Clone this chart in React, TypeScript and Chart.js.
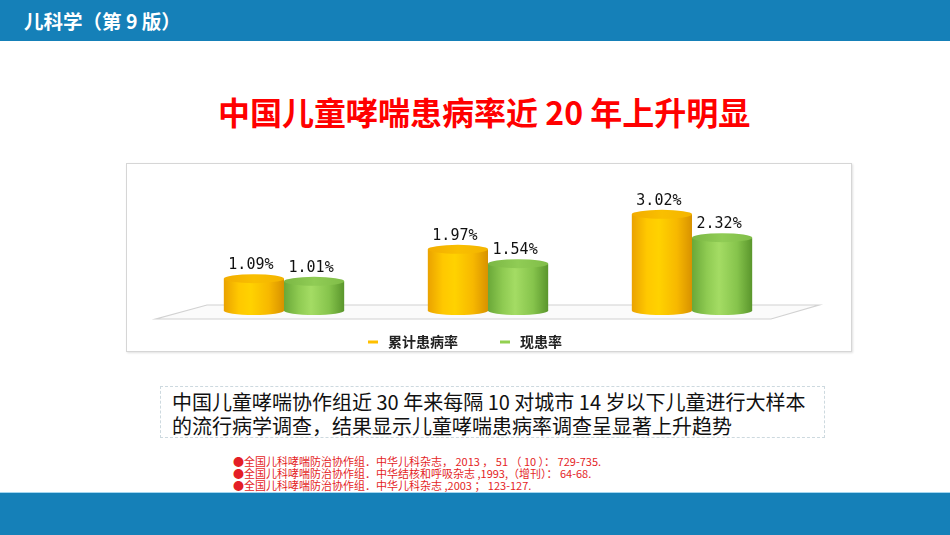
import { useEffect, useRef } from 'react';
import { Chart, BarController, BarElement, CategoryScale, LinearScale } from 'chart.js';
import type { Plugin } from 'chart.js';

Chart.register(BarController, BarElement, CategoryScale, LinearScale);

// three national surveys (years are not printed on the slide)
const SURVEYS = ['1990', '2000', '2010'];
const CUMULATIVE = [1.09, 1.97, 3.02];
const CURRENT = [1.01, 1.54, 2.32];
const SERIES = ['累计患病率', '现患率'];
const SERIES_COLORS = ['#ffc000', '#92d050'];

const REFERENCES = [
  '●全国儿科哮喘防治协作组．中华儿科杂志， 2013 ， 51 （ 10 ）： 729-735.',
  '●全国儿科哮喘防治协作组．中华结核和呼吸杂志 ,1993,（增刊）： 64-68.',
  '●全国儿科哮喘防治协作组．中华儿科杂志 ,2003 ； 123-127.',
];

const CJK = '"Noto Sans CJK SC", "Noto Sans", sans-serif';
const BLUE = '#1580b8';

// body / cap gradient stops per series
const BODY_STOPS = [
  ['#eaa200', '#ffc800', '#ffd200', '#f7b800', '#d89200'],
  ['#6aa838', '#8fcb52', '#a4dc64', '#86c44c', '#5a962c'],
];
const CAP_STOPS = [
  ['#f2ac00', '#f9bf00', '#f4b400'],
  ['#7bb744', '#90cc55', '#80bd48'],
];

const RY = 4.5;

const floorPlugin: Plugin<'bar'> = {
  id: 'floor',
  beforeDatasetsDraw(chart) {
    const { ctx, chartArea: a } = chart;
    const front = a.bottom + 4;
    const back = a.bottom - 10;
    ctx.save();
    ctx.beginPath();
    ctx.moveTo(a.left - 26, front);
    ctx.lineTo(a.right - 23, front);
    ctx.lineTo(a.right + 25, back);
    ctx.lineTo(a.left + 25, back);
    ctx.closePath();
    ctx.fillStyle = '#fbfbfb';
    ctx.fill();
    ctx.strokeStyle = '#d2d2d2';
    ctx.lineWidth = 1.2;
    ctx.stroke();
    ctx.restore();
  },
};

const cylinderPlugin: Plugin<'bar'> = {
  id: 'cylinders',
  afterDatasetsDraw(chart) {
    const { ctx } = chart;
    ctx.save();
    chart.data.datasets.forEach((ds, di) => {
      const meta = chart.getDatasetMeta(di);
      meta.data.forEach((el: any, i) => {
        const { x, y, base, width } = el.getProps(['x', 'y', 'base', 'width'], true);
        const rx = width / 2;
        const left = x - rx;
        const right = x + rx;
        const bottomC = base - RY;

        const g = ctx.createLinearGradient(left, 0, right, 0);
        const bs = BODY_STOPS[di];
        [0, 0.25, 0.45, 0.75, 1].forEach((p, k) => g.addColorStop(p, bs[k]));
        ctx.beginPath();
        ctx.moveTo(left, y);
        ctx.lineTo(left, bottomC);
        ctx.ellipse(x, bottomC, rx, RY, 0, Math.PI, 0, true);
        ctx.lineTo(right, y);
        ctx.closePath();
        ctx.fillStyle = g;
        ctx.fill();

        const cg = ctx.createLinearGradient(left, 0, right, 0);
        const cs = CAP_STOPS[di];
        [0, 0.5, 1].forEach((p, k) => cg.addColorStop(p, cs[k]));
        ctx.beginPath();
        ctx.ellipse(x, y, rx, RY, 0, 0, Math.PI * 2);
        ctx.fillStyle = cg;
        ctx.fill();

        const v = ds.data[i] as number;
        ctx.fillStyle = '#111';
        ctx.font = '15px "DejaVu Sans Mono", monospace';
        ctx.textAlign = 'center';
        ctx.textBaseline = 'alphabetic';
        ctx.fillText(v.toFixed(2) + '%', x - 3, y - RY - 5);
      });
    });
    ctx.restore();
  },
};

const legendPlugin: Plugin<'bar'> = {
  id: 'slideLegend',
  afterDraw(chart) {
    const { ctx, chartArea: a } = chart;
    ctx.save();
    ctx.font = 'bold 14px ' + CJK;
    const dash = 10, gap = 10, itemGap = 42;
    const widths = chart.data.datasets.map(ds => dash + gap + ctx.measureText(ds.label || '').width);
    const total = widths.reduce((s, w) => s + w, 0) + itemGap * (widths.length - 1);
    let cx = (a.left + a.right) / 2 - 23 - total / 2;
    const cy = a.bottom + 27;
    chart.data.datasets.forEach((ds, di) => {
      ctx.fillStyle = SERIES_COLORS[di];
      ctx.fillRect(cx, cy - 1.5, dash, 3);
      ctx.fillStyle = '#222';
      ctx.textAlign = 'left';
      ctx.textBaseline = 'middle';
      ctx.fillText(ds.label || '', cx + dash + gap, cy);
      cx += widths[di] + itemGap;
    });
    ctx.restore();
  },
};

function CylinderChart() {
  const canvasRef = useRef<HTMLCanvasElement>(null);
  const chartRef = useRef<Chart<'bar'> | null>(null);

  useEffect(() => {
    if (!canvasRef.current) return;
    Chart.getChart(canvasRef.current)?.destroy();
    chartRef.current?.destroy();

    chartRef.current = new Chart(canvasRef.current, {
      type: 'bar',
      data: {
        labels: SURVEYS,
        datasets: [CUMULATIVE, CURRENT].map((d, i) => ({
          label: SERIES[i],
          data: d,
          backgroundColor: 'rgba(0,0,0,0)',
          borderWidth: 0,
          barPercentage: 1,
          categoryPercentage: 0.59,
        })),
      },
      options: {
        responsive: false,
        animation: false,
        layout: { padding: { left: 55, right: 57, top: 1, bottom: 36 } },
        scales: {
          x: { display: false },
          y: { display: false, min: 0, max: 4.5 },
        },
        plugins: { legend: { display: false }, tooltip: { enabled: false } },
      },
      plugins: [floorPlugin, cylinderPlugin, legendPlugin],
    });

    return () => { chartRef.current?.destroy(); chartRef.current = null; };
  }, []);

  return <canvas ref={canvasRef} width={724} height={187} style={{ display: 'block' }} />;
}

export default function App() {
  return (
    <div style={{ position: 'fixed', left: 0, top: 0, width: 950, height: 535, overflow: 'hidden', background: '#fff', fontFamily: CJK }}>
      <div style={{ position: 'absolute', left: 0, top: 0, width: 950, height: 41, background: BLUE }}>
        <div style={{ position: 'absolute', left: 24, top: 0, lineHeight: '41px', fontSize: 19.5, fontWeight: 700, color: '#fff', whiteSpace: 'nowrap' }}>
          儿科学（第 9 版）
        </div>
      </div>

      <div style={{ position: 'absolute', left: 218, top: 94, lineHeight: '34px', fontSize: 32, fontWeight: 700, color: '#f00', whiteSpace: 'nowrap' }}>
        中国儿童哮喘患病率近 20 年上升明显
      </div>

      <div style={{ position: 'absolute', left: 126, top: 163, width: 726, height: 189, boxSizing: 'border-box', border: '1px solid #d6d6d6', boxShadow: '1px 1px 2px rgba(0,0,0,0.12)' }}>
        <CylinderChart />
      </div>

      <div style={{ position: 'absolute', left: 160, top: 386, width: 665, height: 52, boxSizing: 'border-box', border: '1px dashed #cdd9df' }}>
        <div style={{ position: 'absolute', left: 11, top: 3, fontSize: 20, lineHeight: '24px', color: '#111', whiteSpace: 'nowrap' }}>
          中国儿童哮喘协作组近 30 年来每隔 10 对城市 14 岁以下儿童进行大样本<br />
          的流行病学调查，结果显示儿童哮喘患病率调查呈显著上升趋势
        </div>
      </div>

      <div style={{ position: 'absolute', left: 233, top: 455, fontSize: 11, lineHeight: '12px', color: '#e41e26', whiteSpace: 'nowrap' }}>
        {REFERENCES.map(r => <div key={r}>{r}</div>)}
      </div>

      <div style={{ position: 'absolute', left: 0, top: 492, width: 950, height: 43, background: BLUE, borderTop: '1px solid #a3d6f0', boxSizing: 'border-box' }} />
    </div>
  );
}
